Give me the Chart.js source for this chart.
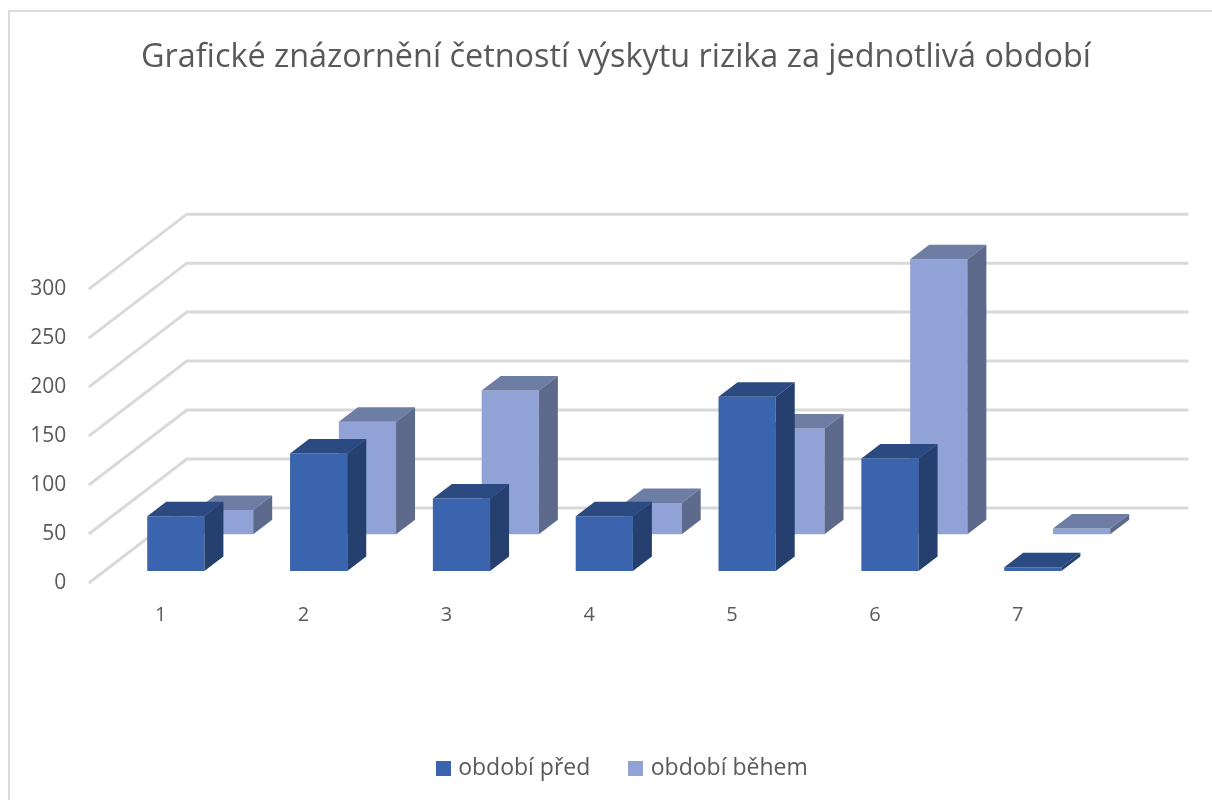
<!DOCTYPE html>
<html><head><meta charset="utf-8">
<style>
html,body{margin:0;padding:0;background:#fff;overflow:hidden}
#wrap{position:relative;width:1212px;height:800px}
#frame{position:absolute;left:8px;top:10px;right:0;bottom:0;border-left:2px solid #dcdcdc;border-top:2px solid #dcdcdc}
canvas{position:absolute;left:0;top:0}
</style>
<script src="https://cdn.jsdelivr.net/npm/chart.js@4"></script>
</head><body><div id="wrap"><div id="frame"></div><canvas id="c" width="1212" height="800"></canvas></div>
<script>
const titleText = 'Grafické znázornění četností výskytu rizika za jednotlivá období';
const categories = ['1','2','3','4','5','6','7'];
const seriesNames = ['období před','období během'];
const periodBefore = [56,120,74,56,178,115,4];
const periodDuring = [25,115,147,32,108,281,6];
const frontColors = ['#3A64AD','#91A3D6'];
const topColors = ['#2B4A82','#6D7DA3'];
const sideColors = ['#25406E','#5D6A8C'];
const FONT = '"Open Sans", sans-serif';
const TEXT = '#595959';

function swatch(color){
  const s=document.createElement('canvas'); s.width=15; s.height=15;
  const g=s.getContext('2d'); g.fillStyle=color; g.fillRect(0,0,15,15);
  return s;
}
const swatches = frontColors.map(swatch);

const wall3d = {
  id:'wall3d',
  afterLayout(chart){
    chart.titleBlock.left += 51.7; chart.titleBlock.right += 51.7;
    chart.legend.left += 59.4; chart.legend.right += 59.4;
  },
  beforeDatasetsDraw(chart){
    const {ctx,chartArea:a,scales:{y}} = chart;
    const backX=a.left+58, frontX=a.left-40, endX=1188.5, dy=75;
    ctx.save();
    ctx.strokeStyle='#D9D9D9'; ctx.lineWidth=3;
    y.ticks.forEach(t=>{
      const p=y.getPixelForValue(t.value);
      ctx.beginPath(); ctx.moveTo(frontX,p); ctx.lineTo(backX,p-dy); ctx.lineTo(endX,p-dy); ctx.stroke();
    });
    ctx.restore();
  },
  afterDatasetDraw(chart,args){
    const {ctx}=chart, i=args.index, dx=19, dy=14.5;
    const meta=chart.getDatasetMeta(i);
    ctx.save();
    meta.data.forEach(b=>{
      const l=b.x-b.width/2, r=b.x+b.width/2, t=b.y, bs=b.base;
      ctx.fillStyle=topColors[i];
      ctx.beginPath(); ctx.moveTo(l,t); ctx.lineTo(l+dx,t-dy); ctx.lineTo(r+dx,t-dy); ctx.lineTo(r,t); ctx.closePath(); ctx.fill();
      ctx.fillStyle=sideColors[i];
      ctx.beginPath(); ctx.moveTo(r,t); ctx.lineTo(r+dx,t-dy); ctx.lineTo(r+dx,bs-dy); ctx.lineTo(r,bs); ctx.closePath(); ctx.fill();
    });
    ctx.restore();
  }
};

new Chart(document.getElementById('c'),{
  type:'bar',
  data:{labels:categories,datasets:[
    {label:seriesNames[0],data:periodBefore,yAxisID:'yFront',backgroundColor:frontColors[0],clip:false,categoryPercentage:0.6833,barPercentage:1.172},
    {label:seriesNames[1],data:periodDuring,yAxisID:'yBack',backgroundColor:frontColors[1],clip:false,categoryPercentage:0.6833,barPercentage:1.172}
  ]},
  plugins:[wall3d],
  options:{
    responsive:false,animation:false,
    layout:{padding:{left:0,right:83.4,top:0,bottom:10}},
    plugins:{
      tooltip:{enabled:false},
      title:{display:true,text:titleText,color:TEXT,font:{family:FONT,size:32.4,weight:'normal'},padding:{top:38,bottom:212.3}},
      legend:{position:'bottom',labels:{color:TEXT,font:{family:FONT,size:23},usePointStyle:true,pointStyleWidth:7,padding:42,
        generateLabels(chart){
          const items=Chart.defaults.plugins.legend.labels.generateLabels(chart);
          items.forEach((it,k)=>{it.pointStyle=swatches[k];});
          return items;
        }}}
    },
    scales:{
      x:{grid:{display:false},border:{display:false},
        ticks:{color:TEXT,font:{family:FONT,size:20},labelOffset:-39.5,padding:12,maxRotation:0},
        afterFit(s){s.height=132;}},
      y:{position:'left',min:0,max:300,grid:{display:false},border:{display:false},
        ticks:{color:TEXT,font:{family:FONT,size:21},stepSize:50,padding:54.5},
        afterFit(s){s.width=128.8;}},
      yFront:{display:false,min:-12.16,max:287.84},
      yBack:{display:false,min:-49.66,max:250.34}
    }
  }
});
</script></body></html>
